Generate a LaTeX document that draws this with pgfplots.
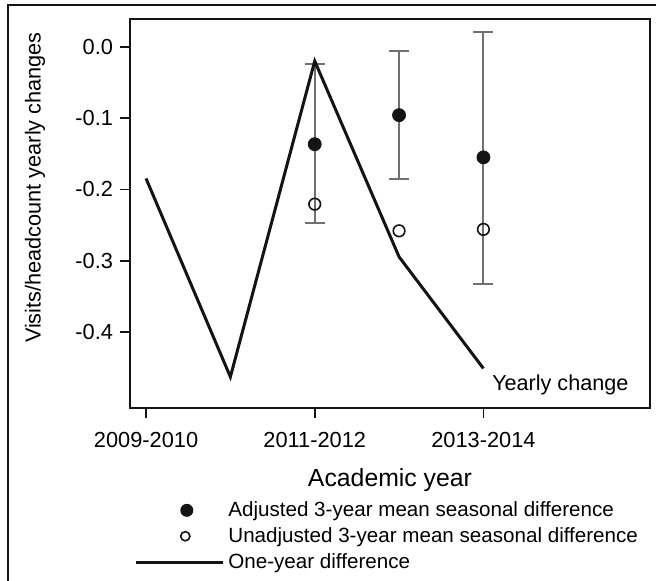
\documentclass[border=0pt]{standalone}
\usepackage{fontspec}
\setmainfont{Liberation Sans}
\usepackage{pgfplots}
\pgfplotsset{compat=1.18}

\definecolor{bargray}{RGB}{112,112,112}
\definecolor{ink}{RGB}{20,20,20}

\begin{document}
\begin{tikzpicture}
\useasboundingbox (-65bp,-86.65bp) rectangle (263bp,203.85bp);
\begin{axis}[
  scale only axis,
  width=260bp, height=194.35bp,
  xmin=-0.19, xmax=5.975,
  ymin=-0.506, ymax=0.039,
  axis line style={line width=0.9bp, ink},
  tick align=outside,
  major tick length=5bp,
  every tick/.style={line width=0.9bp, ink},
  xtick pos=left, ytick pos=left,
  xtick={0,2,4},
  xticklabels={2009-2010,2011-2012,2013-2014},
  ytick={-0.4,-0.3,-0.2,-0.1,0},
  yticklabels={-0.4,-0.3,-0.2,-0.1,0.0},
  ticklabel style={font=\fontsize{10.9bp}{13bp}\selectfont},
  xticklabel style={anchor=base, yshift=-14.7bp},
  xlabel={Academic year},
  ylabel={Visits/headcount yearly changes},
  xlabel style={at={(axis description cs:0.5,0)}, anchor=base, yshift=-39.5bp,
                font=\fontsize{12.4bp}{15bp}\selectfont},
  ylabel style={at={(axis description cs:-0.1827,0.5665)}, anchor=center,
                font=\fontsize{10.85bp}{13bp}\selectfont},
  legend style={draw=none, fill=none,
                font=\fontsize{10.3bp}{12bp}\selectfont,
                at={(axis description cs:0,0)}, anchor=north west,
                xshift=2bp, yshift=-44.65bp,
                inner sep=0pt, row sep=0pt,
                cells={anchor=west}},
  legend cell align=left,
]

% 95% intervals around the adjusted means
\addplot[forget plot, only marks, mark=none,
  error bars/.cd, y dir=both, y explicit,
  error bar style={line width=1bp, bargray, solid},
  error mark options={rotate=90, mark size=5bp, line width=1bp, bargray}]
  table[x=x, y=y, y error plus=ep, y error minus=em] {
x   y        ep     em
2   -0.1365  0.1122 0.1112
3   -0.0958  0.0902 0.0897
4   -0.1550  0.1752 0.1770
};

\addplot[only marks, mark=*, mark size=3.25bp, ink, mark options={fill=ink},
  legend image code/.code={
    \path[draw=none, fill=none] (0bp,0bp) rectangle (43.5bp,0.1bp);
    \path[draw=none, fill=none] (22bp,0bp) node[circle, fill=ink, draw=none,
      inner sep=0pt, minimum size=6.5bp] {};}]
  coordinates {(2,-0.1365) (3,-0.0958) (4,-0.1550)};
\addlegendentry{Adjusted 3-year mean seasonal difference}

\addplot[only marks, mark=o, mark size=2.9bp, ink, mark options={line width=0.8bp},
  legend image code/.code={
    \path[draw=none, fill=none] (0bp,0bp) rectangle (43.5bp,0.1bp);
    \path[draw=none, fill=none] (22bp,0bp) node[circle, draw=ink, fill=none,
      line width=0.8bp, inner sep=0pt, minimum size=4.6bp] {};}]
  coordinates {(2,-0.2206) (3,-0.2580) (4,-0.2560)};
\addlegendentry{Unadjusted 3-year mean seasonal difference}

\addplot[line width=1.5bp, ink, mark=none,
  legend image code/.code={\draw[line width=1.5bp, ink] (0bp,0bp) -- (43.5bp,0bp);}]
  coordinates {(0,-0.1846) (1,-0.4628) (2,-0.0200) (3,-0.2945) (4,-0.4510)};
\addlegendentry{One-year difference}

\node[anchor=base west, inner sep=0pt, font=\fontsize{10.8bp}{13bp}\selectfont]
  at (axis cs:4.10,-0.4815) {Yearly change};
\end{axis}
% frame around the figure
\draw[line width=1.2bp, ink] (-61bp,-90bp) -- (-61bp,201.35bp) -- (270bp,201.35bp);
\end{tikzpicture}
\end{document}
